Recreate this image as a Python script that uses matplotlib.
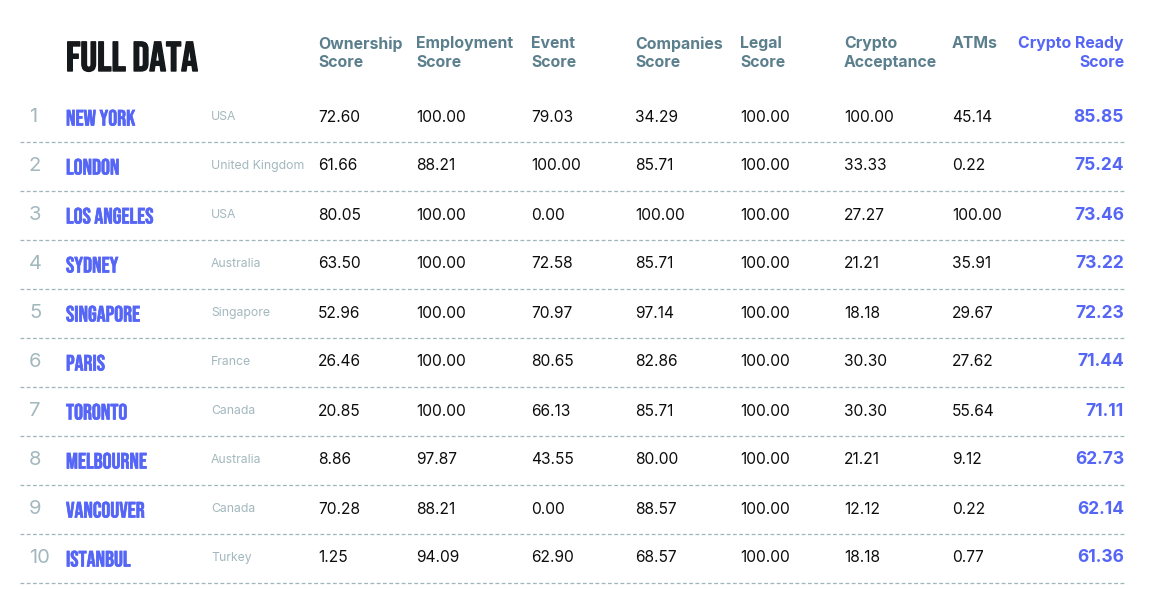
import matplotlib
matplotlib.use("Agg")
import matplotlib.pyplot as plt
from matplotlib import font_manager
import matplotlib.patheffects as pe

ranks = [1, 2, 3, 4, 5, 6, 7, 8, 9, 10]
cities = ["NEW YORK", "LONDON", "LOS ANGELES", "SYDNEY", "SINGAPORE", "PARIS",
          "TORONTO", "MELBOURNE", "VANCOUVER", "ISTANBUL"]
countries = ["USA", "United Kingdom", "USA", "Australia", "Singapore", "France",
             "Canada", "Australia", "Canada", "Turkey"]
ownership = [72.60, 61.66, 80.05, 63.50, 52.96, 26.46, 20.85, 8.86, 70.28, 1.25]
employment = [100.00, 88.21, 100.00, 100.00, 100.00, 100.00, 100.00, 97.87, 88.21, 94.09]
event = [79.03, 100.00, 0.00, 72.58, 70.97, 80.65, 66.13, 43.55, 0.00, 62.90]
companies = [34.29, 85.71, 100.00, 85.71, 97.14, 82.86, 85.71, 80.00, 88.57, 68.57]
legal = [100.00] * 10
acceptance = [100.00, 33.33, 27.27, 21.21, 18.18, 30.30, 30.30, 21.21, 12.12, 18.18]
atms = [45.14, 0.22, 100.00, 35.91, 29.67, 27.62, 55.64, 9.12, 0.22, 0.77]
ready = [85.85, 75.24, 73.46, 73.22, 72.23, 71.44, 71.11, 62.73, 62.14, 61.36]

headers = [("Ownership\nScore", 318), ("Employment\nScore", 416), ("Event\nScore", 531),
           ("Companies\nScore", 635), ("Legal\nScore", 740), ("Crypto\nAcceptance", 844),
           ("ATMs", 952)]
columns = [ownership, employment, event, companies, legal, acceptance, atms]

W, H = 1163, 589
fig = plt.figure(figsize=(W / 100, H / 100), dpi=100)
ax = fig.add_axes([0, 0, 1, 1])
ax.set_xlim(0, W)
ax.set_ylim(H, 0)
ax.axis("off")

names = {f.name for f in font_manager.fontManager.ttflist}
cond = "DejaVu Sans"
for cand in ["Bebas Neue", "Roboto Condensed", "Open Sans Condensed",
             "Liberation Sans Narrow", "DejaVu Sans"]:
    if cand in names:
        cond = cand
        break
base = "Inter" if "Inter" in names else "DejaVu Sans"

BLUE = "#5566f6"
HEAD = "#5b7f8c"
GREY = "#a3b8be"
LINE = "#9fb5ba"
DARK = "#15191c"

ax.text(66, 56, "FULL DATA", fontsize=30, fontweight="bold", family=cond,
        fontstretch="condensed", color=DARK, ha="left", va="center",
        path_effects=[pe.withStroke(linewidth=1.0, foreground=DARK)])

for label, x in headers:
    ax.text(x, 36, label, fontsize=11.4, fontweight="bold", family=base, color=HEAD,
            ha="left", va="top", linespacing=1.3)
ax.text(1124, 36, "Crypto Ready\nScore", fontsize=11.4, fontweight="bold", family=base,
        color=BLUE, ha="right", va="top", linespacing=1.3, multialignment="right")

y0, dy = 117, 49
for i in range(len(ranks)):
    y = y0 + i * dy
    ax.text(29, y, str(ranks[i]), fontsize=14.5, color=GREY, family=base,
            ha="left", va="center")
    ax.text(66, y + 0.5, cities[i], fontsize=16, fontweight="bold", family=cond,
            fontstretch="condensed", color=BLUE, ha="left", va="center",
            path_effects=[pe.withStroke(linewidth=0.45, foreground=BLUE)])
    ax.text(211, y, countries[i], fontsize=8.8, color=GREY, family=base,
            ha="left", va="center")
    for col, (_, x) in zip(columns, headers):
        ax.text(x, y, f"{col[i]:.2f}", fontsize=11.2, color="#0d0d0d", family=base,
                ha="left", va="center")
    ax.text(1124, y, f"{ready[i]:.2f}", fontsize=12.5, fontweight="bold", family=base,
            color=BLUE, ha="right", va="center")
    ax.plot([20, 1124], [y + 24.5, y + 24.5], color=LINE, lw=0.9,
            linestyle=(0, (3, 2)))

fig.savefig("out.png", dpi=100, facecolor="white")
